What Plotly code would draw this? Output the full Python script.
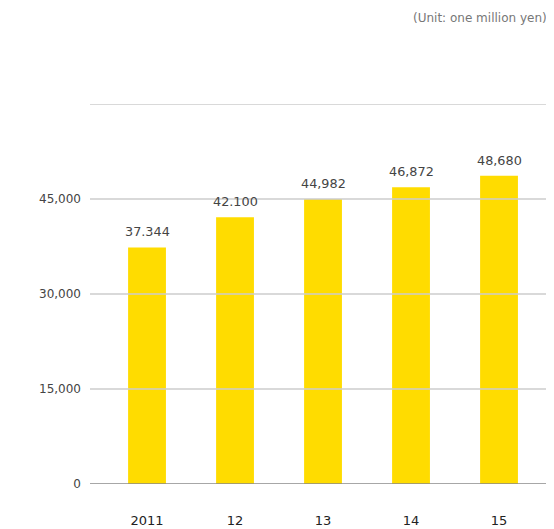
import plotly.graph_objects as go

years = ["2011", "12", "13", "14", "15"]
sales = [37344, 42100, 44982, 46872, 48680]
value_labels = ["37.344", "42.100", "44,982", "46,872", "48,680"]
y_ticks = [0, 15000, 30000, 45000, 60000]
y_tick_labels = ["0", "15,000", "30,000", "45,000", ""]
unit_note = "(Unit: one million yen)"

xs = list(range(len(years)))
FONT = "DejaVu Sans, Liberation Sans, Arial"

fig = go.Figure()
fig.add_trace(go.Bar(
    x=xs, y=sales, width=0.43,
    marker=dict(color="#FFDC00", line=dict(width=0)),
    hoverinfo="skip",
))

for x, v, t in zip(xs, sales, value_labels):
    fig.add_annotation(x=x, y=v, text=t, showarrow=False, yanchor="bottom",
                       yshift=6, font=dict(family=FONT, size=12.8, color="#444444"))

for t in y_ticks[1:]:
    fig.add_shape(type="line", xref="paper", x0=0, x1=1, yref="y", y0=t, y1=t,
                  line=dict(color="#cccccc", width=1.5), layer="above")
fig.add_shape(type="line", xref="paper", x0=0, x1=1, yref="y", y0=0, y1=0,
              line=dict(color="#8a8a8a", width=1.5), layer="above")

fig.add_annotation(xref="paper", yref="paper", x=1.0, y=1.0, xanchor="right", yanchor="middle",
                   yshift=86, xshift=-3, text=unit_note, showarrow=False,
                   font=dict(family=FONT, size=12, color="#777777"))

fig.update_layout(
    width=546, height=521,
    margin=dict(l=82, r=2, t=96, b=45, autoexpand=False),
    plot_bgcolor="white", paper_bgcolor="white",
    showlegend=False,
    font=dict(family=FONT, color="#333333"),
    xaxis=dict(range=[-0.648, 4.602], tickmode="array", tickvals=xs, ticktext=years,
               showgrid=False, zeroline=False, showline=False, ticks="",
               ticklabelstandoff=27,
               tickfont=dict(size=13, color="#222222", family=FONT)),
    yaxis=dict(range=[0, 60000], tickmode="array", tickvals=y_ticks, ticktext=y_tick_labels,
               showgrid=False, zeroline=False, showline=False, ticks="",
               ticklabelstandoff=8,
               tickfont=dict(size=12, color="#444444", family=FONT)),
)

fig.write_html("out.html")
